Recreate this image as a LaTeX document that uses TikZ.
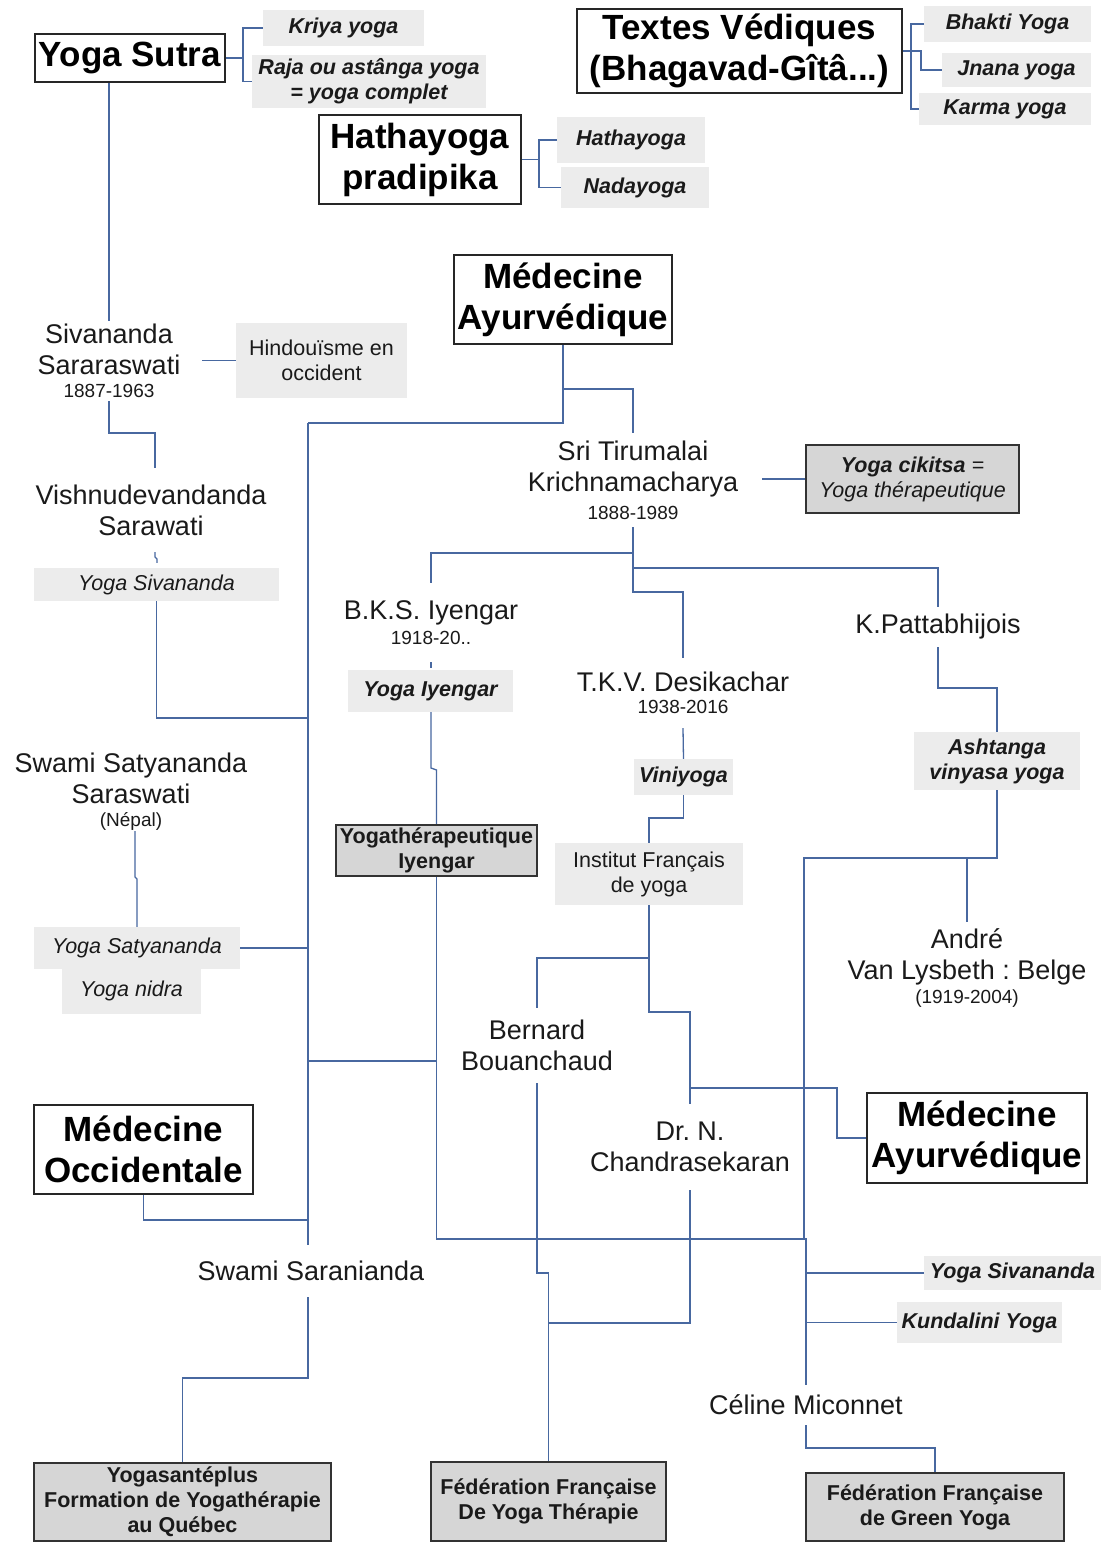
\documentclass[tikz,border=0pt]{standalone}
\usepackage{fontspec}
\setmainfont{Liberation Sans}
\usetikzlibrary{backgrounds}
\definecolor{lineblue}{RGB}{72,104,160}
\definecolor{lightbox}{RGB}{236,236,236}
\definecolor{darkbox}{RGB}{214,214,214}
\definecolor{txt}{RGB}{26,26,26}
\newcommand\fbig{\fontsize{35}{41}\selectfont\bfseries}
\newcommand\fnm{\fontsize{27}{31}\selectfont}
\newcommand\fyr{\fontsize{19}{22}\selectfont}
\newcommand\fsm{\fontsize{21.5}{25}\selectfont}
\frenchspacing
\begin{document}
\begin{tikzpicture}[x=1pt,y=-1pt,
  conn/.style={draw=lineblue,line width=1.3pt},
  connthick/.style={draw=lineblue,line width=2pt},
  title/.style={draw=black!85,line width=1.3pt,fill=white,inner sep=0pt,align=center,font=\fbig,text=black},
  lbox/.style={fill=lightbox,inner sep=0pt,align=center,text=txt},
  dbox/.style={fill=darkbox,draw=black!80,line width=1.3pt,inner sep=0pt,align=center,text=txt},
  person/.style={inner sep=0pt,align=center,text=txt,font=\fnm},
  bi/.style={font=\fsm\bfseries\itshape},
  it/.style={font=\fsm\itshape},
  rg/.style={font=\fsm},
  bd/.style={font=\fsm\bfseries},
]
\useasboundingbox (0,0) rectangle (1104,1542);

% ---------- boxes ----------
\node[title, minimum width=190pt, minimum height=48pt] (ysutra) at (130,58) {Yoga Sutra};
\node[lbox, bi, minimum width=161pt, minimum height=36pt] (kriya) at (343.5,28) {Kriya yoga};
\node[lbox, bi, minimum width=234pt, minimum height=53pt] (raja) at (369,81.5) {Raja ou astânga yoga\\= yoga complet};
\node[title, minimum width=325pt, minimum height=84pt] (textes) at (739.5,51) {Textes Védiques\\(Bhagavad-Gîtâ...)};
\node[lbox, bi, minimum width=167pt, minimum height=36pt] (bhakti) at (1007.5,24) {Bhakti Yoga};
\node[lbox, bi, minimum width=149pt, minimum height=34pt] (jnana) at (1016.5,70) {Jnana yoga};
\node[lbox, bi, minimum width=172pt, minimum height=32pt] (karma) at (1005,109) {Karma yoga};
\node[title, minimum width=202pt, minimum height=89pt] (hpradipika) at (420,159.5) {Hathayoga\\pradipika};
\node[lbox, bi, minimum width=148pt, minimum height=46pt] (hathayoga) at (631,140) {Hathayoga};
\node[lbox, bi, minimum width=148pt, minimum height=41pt] (nadayoga) at (635,187.5) {Nadayoga};
\node[title, minimum width=218pt, minimum height=89pt] (medayur1) at (563,299.5) {Médecine\\Ayurvédique};
\node[lbox, rg, minimum width=171pt, minimum height=75pt] (hindou) at (321.5,360.5) {Hindouïsme en\\occident};
\node[dbox, it, minimum width=213pt, minimum height=68pt] (cikitsa) at (912.5,479) {{\bfseries Yoga cikitsa} =\\Yoga thérapeutique};
\node[lbox, it, minimum width=245pt, minimum height=33pt] (yogasiv1) at (156.5,584.5) {Yoga Sivananda};
\node[lbox, bi, minimum width=165pt, minimum height=42pt] (yogaiyen) at (430.5,691) {Yoga Iyengar};
\node[lbox, bi, minimum width=99pt, minimum height=36pt] (viniyoga) at (683.5,777) {Viniyoga};
\node[lbox, bi, minimum width=166pt, minimum height=58pt] (ashtanga) at (997,761) {Ashtanga\\vinyasa yoga};
\node[dbox, bd, minimum width=201pt, minimum height=51pt] (yti) at (436.5,850.5) {Yogathérapeutique\\Iyengar};
\node[lbox, rg, minimum width=188pt, minimum height=62pt] (institut) at (649,874) {Institut Français\\de yoga};
\node[lbox, it, minimum width=206pt, minimum height=42pt] (ysatya) at (137,948) {Yoga Satyananda};
\node[lbox, it, minimum width=139pt, minimum height=47pt] (ynidra) at (131.5,990.5) {Yoga nidra};
\node[title, minimum width=220pt, minimum height=90pt] (medayur2) at (977,1138) {Médecine\\Ayurvédique};
\node[title, minimum width=219pt, minimum height=89pt] (medocc) at (143.5,1149.5) {Médecine\\Occidentale};
\node[lbox, bi, minimum width=177pt, minimum height=34pt] (yogasiv2) at (1012.5,1273) {Yoga Sivananda};
\node[lbox, bi, minimum width=165pt, minimum height=41pt] (kundalini) at (979.5,1322.5) {Kundalini Yoga};
\node[dbox, bd, minimum width=297pt, minimum height=78pt] (yogasante) at (182.5,1502) {Yogasantéplus\\Formation de Yogathérapie\\au Québec};
\node[dbox, bd, minimum width=235pt, minimum height=79pt] (ffyt) at (548.5,1501.5) {Fédération Française\\De Yoga Thérapie};
\node[dbox, bd, minimum width=258pt, minimum height=68pt] (ffgreen) at (935,1507) {Fédération Française\\de Green Yoga};

% ---------- persons ----------
\node[person, minimum width=186pt, minimum height=80pt] (siv) at (109,361) {Sivananda\\Sararaswati\\[-8pt]{\fyr 1887-1963}};
\node[person, minimum height=84pt] (vishnu) at (151,510) {Vishnudevandanda\\Sarawati};
\node[person, minimum width=258pt, minimum height=94pt] (krishna) at (633,480) {Sri Tirumalai\\Krichnamacharya\\[-3pt]{\fyr 1888-1989}};
\node[person, minimum height=79pt] (iyengar) at (431,622.5) {B.K.S. Iyengar\\[-6pt]{\fyr 1918-20..}};
\node[person, minimum height=70pt] (tkv) at (683,693) {T.K.V. Desikachar\\[-9pt]{\fyr 1938-2016}};
\node[person, minimum height=40pt] (patt) at (938,627) {K.Pattabhijois};
\node[person, minimum height=78pt] (satya) at (131,792) {Swami Satyananda\\Saraswati\\[-8pt]{\fyr (Népal)}};
\node[person, minimum height=92pt] (andre) at (967,968) {André\\Van Lysbeth : Belge\\[-7pt]{\fyr (1919-2004)}};
\node[person, minimum height=75pt] (bernard) at (537,1045.5) {Bernard\\Bouanchaud};
\node[person, minimum height=86pt] (drn) at (690,1147) {Dr. N.\\Chandrasekaran};
\node[person, minimum height=52pt] (saran) at (311,1271) {Swami Saranianda};
\node[person, minimum height=40pt] (celine) at (806,1405) {Céline Miconnet};

% ---------- connectors ----------
\begin{scope}[on background layer]
\fill[white] (0,0) rectangle (1104,1542);
\draw[conn] (ysutra.east) -- (243,58);
\draw[conn] (kriya.west) -| (243,81.5) -- (raja.west);
\draw[conn] (ysutra.south -| siv.north) -- (siv.north);
\draw[conn] (bhakti.west) -| (911,109) -- (karma.west);
\draw[conn] (textes.east) -| (921,70) -- (jnana.west);
\draw[conn] (hpradipika.east) -- (539,159.5);
\draw[conn] (hathayoga.west) -| (539,187.5) -- (nadayoga.west);
\draw[conn] (medayur1.south) |- (308,423);
\draw[connthick] (308,423) -- (saran.north -| 308,0);
\draw[conn] (medayur1.south |- 0,389) -| (krishna.north);
\draw[conn] (krishna.east |- cikitsa.west) -- (cikitsa.west);
\draw[conn] (krishna.south |- 0,553) -| (iyengar.north);
\draw[conn] (krishna.south |- 0,568) -| (patt.north);
\draw[conn] (krishna.south) -- (633,592) -| (tkv.north);
\draw[conn] (siv.east |- hindou.west) -- (hindou.west);
\draw[conn] (siv.south) |- (155,433) -- (vishnu.north -| 155,0);
\draw[conn, shorten >=5pt] (vishnu.south -| 155,0) -- (155,557) -- (157,559) -- (yogasiv1.north -| 157,0);
\draw[conn] (yogasiv1.south) |- (308,718);
\draw[conn, shorten >=2pt] (iyengar.south) -- (yogaiyen.north -| iyengar.south);
\draw[conn] (yogaiyen.south -| iyengar.south) -- (431,768) -- (436.5,770) -- (yti.north);
\draw[conn] (yti.south) |- (806,1239) -- (celine.north);
\draw[conn] (308,1061) -- (yti.south |- 0,1061);
\draw[conn] (ashtanga.south) |- (804,858) -- (804,1239);
\draw[conn] (andre.north) -- (andre.north |- 0,858);
\draw[conn] (patt.south) |- (997,688) -- (ashtanga.north);
\draw[conn] (ysatya.east) -- (308,948);
\draw[conn] (satya.south -| 135,0) -- (135,877) -- (137,879) -- (ysatya.north);
\draw[conn] (medocc.south) |- (308,1220);
\draw[conn] (saran.south -| 308,0) -- (308,1378) -| (yogasante.north);
\draw[conn] (tkv.south) -- (viniyoga.north);
\draw[conn] (viniyoga.south) |- (649,818) -- (institut.north);
\draw[conn] (institut.south) -- (649,958) -| (bernard.north);
\draw[conn] (649,958) -- (649,1012) -| (drn.north);
\draw[conn] (drn.north |- 0,1088) -| (837,1138) -- (medayur2.west);
\draw[conn] (bernard.south) -- (537,1273) -- (548.5,1273) -- (ffyt.north);
\draw[conn] (drn.south) |- (548.5,1323);
\draw[conn] (806,1273) -- (yogasiv2.west);
\draw[conn] (806,1322.5) -- (kundalini.west);
\draw[conn] (celine.south) |- (935,1448) -- (ffgreen.north);
\end{scope}
\end{tikzpicture}
\end{document}
